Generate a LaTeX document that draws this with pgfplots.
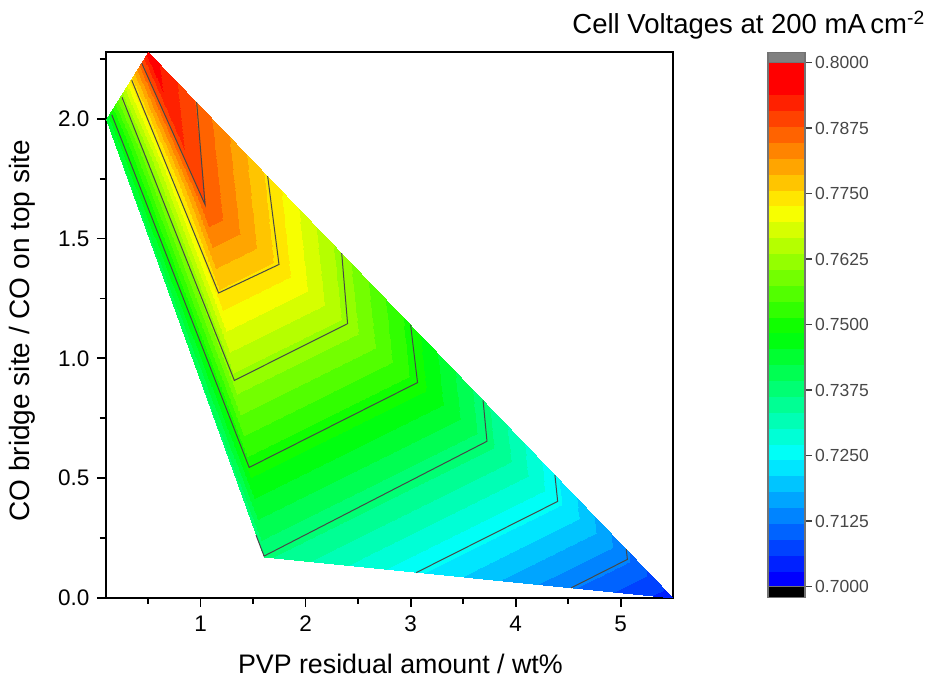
\documentclass[border=0pt]{standalone}
\usepackage{pgfplots}
\pgfplotsset{compat=1.18}
\usepackage{fontspec}
\setmainfont{Liberation Sans}
\pgfkeys{/pgf/number format/assume math mode=true}
\pgfplotsset{colormap access=piecewise constant}
\begin{document}
\begin{tikzpicture}
\useasboundingbox (0,0) rectangle (929pt,679pt);
\begin{axis}[
  at={(106pt,81pt)}, anchor=south west,
  scale only axis, width=567.2pt, height=546.3pt,
  xmin=0.1, xmax=5.5, ymin=0, ymax=2.28,
  colormap={origin}{
    rgb255=(0,0,255) rgb255=(0,33,255) rgb255=(0,66,255) rgb255=(0,99,255)
    rgb255=(0,132,255) rgb255=(0,165,255) rgb255=(0,197,255) rgb255=(0,230,255)
    rgb255=(0,255,247) rgb255=(0,255,214) rgb255=(0,255,181) rgb255=(0,255,148)
    rgb255=(0,255,115) rgb255=(0,255,82) rgb255=(0,255,49) rgb255=(0,255,16)
    rgb255=(16,255,0) rgb255=(49,255,0) rgb255=(82,255,0) rgb255=(115,255,0)
    rgb255=(148,255,0) rgb255=(181,255,0) rgb255=(214,255,0) rgb255=(247,255,0)
    rgb255=(255,230,0) rgb255=(255,197,0) rgb255=(255,165,0) rgb255=(255,132,0)
    rgb255=(255,99,0) rgb255=(255,66,0) rgb255=(255,33,0) rgb255=(255,0,0)
    rgb255=(255,0,0)},
  point meta min=0.7, point meta max=0.8,
  xtick={1,2,3,4,5}, ytick={0,0.5,1,1.5,2},
  minor xtick={0.5,1.5,2.5,3.5,4.5},
  minor ytick={0.25,0.75,1.25,1.75,2.25},
  tick pos=left, tick align=outside,
  major tick length=9pt, minor tick length=6pt,
  tick style={black, line width=1.8pt},
  axis line style={line width=2pt},
  tick label style={font=\fontsize{22.5}{26}\selectfont},
  xticklabel style={yshift=-5pt},
  yticklabel style={xshift=-4pt, /pgf/number format/.cd, fixed, fixed zerofill, precision=1},
  xlabel={PVP residual amount / wt\%},
  ylabel={CO bridge site / CO on top site},
  xlabel style={at={(rel axis cs:0.519,-0.1378)}, anchor=base, font=\fontsize{26.8}{30}\selectfont},
  ylabel style={at={(rel axis cs:-0.148,0.489)}, anchor=center, rotate=0, font=\fontsize{28}{32}\selectfont},
  colorbar right,
  colorbar style={
    at={(parent axis.south east)}, anchor=south west,
    scale only axis, width=37pt, height=524pt,
    ytick={0.7,0.7125,0.725,0.7375,0.75,0.7625,0.775,0.7875,0.8},
    tick align=outside, major tick length=6.7pt,
    ytick pos=right, yticklabel pos=right,
    ytick style={draw=black!75, line width=1.5pt},
    axis line style={draw=black!55, line width=1.2pt},
    yticklabel style={font=\fontsize{17.5}{20}\selectfont, text=black!72,
      /pgf/number format/.cd, fixed, fixed zerofill, precision=4},
    clip=false,
    after end axis/.code={
      \fill[black!50, draw=black!55, line width=1.2pt] (rel axis cs:0,1) rectangle ([yshift=10pt]rel axis cs:1,1);
      \fill[black, draw=black!55, line width=1.2pt] ([yshift=-11pt]rel axis cs:0,0) rectangle (rel axis cs:1,0);
    },
  },
  colorbar shift/.style={xshift=94.8pt, yshift=11.3pt},
]
\addplot[patch, patch type=triangle, shader=interp, point meta=explicit]
  table[meta=c] {
x y c
0.5 2.28 0.796
0.1 2.0 0.743
1.04 1.64 0.788
0.1 2.0 0.743
1.6 0.17 0.737
1.04 1.64 0.788
1.6 0.17 0.737
5.5 0.0 0.7044
1.04 1.64 0.788
5.5 0.0 0.7044
0.5 2.28 0.796
1.04 1.64 0.788
};
\addplot[black!72, line width=1pt, no marks] coordinates {(0.44,2.232) (1.043,1.642) (0.963,2.070)};
\addplot[black!72, line width=1pt, no marks] coordinates {(0.345,2.161) (1.172,1.273) (1.747,1.392) (1.639,1.761)};
\addplot[black!72, line width=1pt, no marks] coordinates {(0.252,2.09) (1.322,0.908) (2.40,1.145) (2.344,1.439)};
\addplot[black!72, line width=1pt, no marks] coordinates {(0.155,2.017) (1.463,0.545) (3.066,0.899) (3.0,1.14)};
\addplot[black!72, line width=1pt, no marks] coordinates {(1.528,0.263) (1.605,0.175) (3.727,0.654) (3.69,0.825)};
\addplot[black!72, line width=1pt, no marks] coordinates {(3.054,0.106) (4.40,0.403) (4.374,0.513)};
\addplot[black!72, line width=1pt, no marks] coordinates {(4.527,0.042) (5.064,0.161) (5.053,0.204)};
\end{axis}
\node[anchor=base east, font=\fontsize{27.5}{31}\selectfont, inner sep=0pt] at (925pt,645.7pt) {Cell Voltages at 200 mA\,cm\textsuperscript{-2}};
\end{tikzpicture}
\end{document}
